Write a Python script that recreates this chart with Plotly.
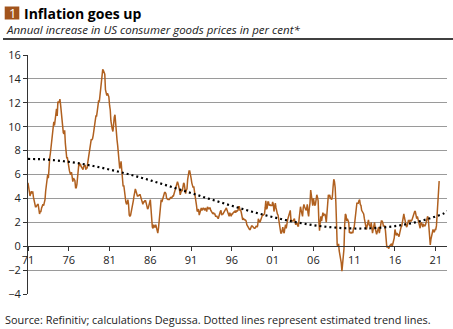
import pandas as pd
import plotly.graph_objects as go

# Monthly US CPI, year-on-year change in per cent, Jan 1971 .. Jul 2021
cpi_yoy = [
    # 1971
    5.3, 5.0, 4.7, 4.2, 4.4, 4.6, 4.4, 4.6, 4.1, 3.8, 3.3, 3.3,
    # 1972
    3.3, 3.5, 3.5, 3.5, 3.2, 2.7, 2.9, 2.9, 3.2, 3.4, 3.5, 3.4,
    # 1973
    3.6, 3.9, 4.6, 5.1, 5.5, 6.0, 5.7, 7.4, 7.4, 7.8, 8.3, 8.7,
    # 1974
    9.4, 10.0, 10.4, 10.1, 10.7, 10.9, 11.5, 10.9, 12.1, 12.0, 12.1, 12.3,
    # 1975
    11.8, 11.2, 10.3, 10.2, 9.5, 9.4, 9.7, 8.6, 7.9, 7.4, 7.4, 6.9,
    # 1976
    6.7, 6.3, 6.1, 6.0, 6.2, 5.9, 5.4, 5.7, 5.5, 5.5, 4.9, 4.9,
    # 1977
    5.2, 5.9, 6.4, 7.0, 6.7, 6.9, 6.7, 6.6, 6.6, 6.4, 6.7, 6.7,
    # 1978
    6.8, 6.4, 6.6, 6.5, 7.0, 7.4, 7.7, 7.9, 8.3, 8.9, 8.9, 9.0,
    # 1979
    9.3, 9.9, 10.1, 10.5, 10.9, 10.9, 11.3, 11.8, 12.2, 12.1, 12.6, 13.3,
    # 1980
    13.9, 14.2, 14.8, 14.7, 14.4, 14.4, 13.1, 12.9, 12.6, 12.8, 12.6, 12.5,
    # 1981
    11.8, 11.4, 10.5, 10.0, 9.8, 9.6, 10.8, 10.8, 11.0, 10.1, 9.6, 8.9,
    # 1982
    8.4, 7.6, 6.8, 6.5, 6.7, 7.1, 6.4, 5.9, 5.0, 5.1, 4.6, 3.8,
    # 1983
    3.7, 3.5, 3.6, 3.9, 3.5, 2.6, 2.5, 2.6, 2.9, 2.9, 3.3, 3.8,
    # 1984
    4.2, 4.6, 4.8, 4.6, 4.2, 4.2, 4.2, 4.3, 4.3, 4.3, 4.1, 3.9,
    # 1985
    3.5, 3.5, 3.7, 3.7, 3.8, 3.8, 3.6, 3.3, 3.1, 3.2, 3.5, 3.8,
    # 1986
    3.9, 3.1, 2.2, 1.6, 1.5, 1.8, 1.6, 1.6, 1.8, 1.5, 1.3, 1.1,
    # 1987
    1.5, 2.1, 3.0, 3.8, 3.9, 3.7, 3.9, 4.3, 4.4, 4.5, 4.5, 4.4,
    # 1988
    4.0, 3.9, 3.9, 3.9, 3.9, 4.0, 4.1, 4.0, 4.2, 4.2, 4.2, 4.4,
    # 1989
    4.7, 4.8, 5.0, 5.1, 5.4, 5.2, 5.0, 4.7, 4.3, 4.5, 4.7, 4.6,
    # 1990
    5.2, 5.3, 5.2, 4.7, 4.4, 4.7, 4.8, 5.6, 6.2, 6.3, 6.3, 6.1,
    # 1991
    5.7, 5.3, 4.9, 4.9, 5.0, 4.7, 4.4, 3.8, 3.4, 2.9, 3.0, 3.1,
    # 1992
    2.6, 2.8, 3.2, 3.2, 3.0, 3.1, 3.2, 3.1, 3.0, 3.2, 3.0, 2.9,
    # 1993
    3.3, 3.2, 3.1, 3.2, 3.2, 3.0, 2.8, 2.8, 2.7, 2.8, 2.7, 2.7,
    # 1994
    2.5, 2.5, 2.5, 2.4, 2.3, 2.5, 2.8, 2.9, 3.0, 2.6, 2.7, 2.7,
    # 1995
    2.8, 2.9, 2.9, 3.1, 3.2, 3.0, 2.8, 2.6, 2.5, 2.8, 2.6, 2.5,
    # 1996
    2.7, 2.7, 2.8, 2.9, 2.9, 2.8, 3.0, 2.9, 3.0, 3.0, 3.3, 3.3,
    # 1997
    3.0, 3.0, 2.8, 2.5, 2.2, 2.3, 2.2, 2.2, 2.2, 2.1, 1.8, 1.7,
    # 1998
    1.6, 1.4, 1.4, 1.4, 1.7, 1.7, 1.7, 1.6, 1.5, 1.5, 1.5, 1.6,
    # 1999
    1.7, 1.6, 1.7, 2.3, 2.1, 2.0, 2.1, 2.3, 2.6, 2.6, 2.6, 2.7,
    # 2000
    2.7, 3.2, 3.8, 3.1, 3.2, 3.7, 3.7, 3.4, 3.5, 3.4, 3.4, 3.4,
    # 2001
    3.7, 3.5, 2.9, 3.3, 3.6, 3.2, 2.7, 2.7, 2.6, 2.1, 1.9, 1.6,
    # 2002
    1.1, 1.1, 1.5, 1.6, 1.2, 1.1, 1.5, 1.8, 1.5, 2.0, 2.2, 2.4,
    # 2003
    2.6, 3.0, 3.0, 2.2, 2.1, 2.1, 2.1, 2.2, 2.3, 2.0, 1.8, 1.9,
    # 2004
    1.9, 1.7, 1.7, 2.3, 3.1, 3.3, 3.0, 2.7, 2.5, 3.2, 3.5, 3.3,
    # 2005
    3.0, 3.0, 3.1, 3.5, 2.8, 2.5, 3.2, 3.6, 4.7, 4.3, 3.5, 3.4,
    # 2006
    4.0, 3.6, 3.4, 3.5, 4.2, 4.3, 4.1, 3.8, 2.1, 1.3, 2.0, 2.5,
    # 2007
    2.1, 2.4, 2.8, 2.6, 2.7, 2.7, 2.4, 2.0, 2.8, 3.5, 4.3, 4.1,
    # 2008
    4.3, 4.0, 4.0, 3.9, 4.2, 5.0, 5.6, 5.4, 4.9, 3.7, 1.1, 0.1,
    # 2009
    0.0, 0.2, -0.4, -0.7, -1.3, -1.4, -2.1, -1.5, -1.3, -0.2, 1.8, 2.7,
    # 2010
    2.6, 2.1, 2.3, 2.2, 2.0, 1.1, 1.2, 1.1, 1.1, 1.2, 1.1, 1.5,
    # 2011
    1.6, 2.1, 2.7, 3.2, 3.6, 3.6, 3.6, 3.8, 3.9, 3.5, 3.4, 3.0,
    # 2012
    2.9, 2.9, 2.7, 2.3, 1.7, 1.7, 1.4, 1.7, 2.0, 2.2, 1.8, 1.7,
    # 2013
    1.6, 2.0, 1.5, 1.1, 1.4, 1.8, 2.0, 1.5, 1.2, 1.0, 1.2, 1.5,
    # 2014
    1.6, 1.1, 1.5, 2.0, 2.1, 2.1, 2.0, 1.7, 1.7, 1.7, 1.3, 0.8,
    # 2015
    -0.1, 0.0, -0.1, -0.2, 0.0, 0.1, 0.2, 0.2, 0.0, 0.2, 0.5, 0.7,
    # 2016
    1.4, 1.0, 0.9, 1.1, 1.0, 1.0, 0.8, 1.1, 1.5, 1.6, 1.7, 2.1,
    # 2017
    2.5, 2.7, 2.4, 2.2, 1.9, 1.6, 1.7, 1.9, 2.2, 2.0, 2.2, 2.1,
    # 2018
    2.1, 2.2, 2.4, 2.5, 2.8, 2.9, 2.9, 2.7, 2.3, 2.5, 2.2, 1.9,
    # 2019
    1.6, 1.5, 1.9, 2.0, 1.8, 1.6, 1.8, 1.7, 1.7, 1.8, 2.1, 2.3,
    # 2020
    2.5, 2.3, 1.5, 0.3, 0.1, 0.6, 1.0, 1.3, 1.4, 1.2, 1.2, 1.4,
    # 2021
    1.4, 1.7, 2.6, 4.2, 5.0, 5.4, 5.4,
]
cpi_start = "1971-01-01"

# Estimated trend (dotted)
trend_dates = [f"{y}-01-01" for y in range(1971, 2023)] + ["2022-05-20"]
trend_values = [
    7.30, 7.29, 7.26, 7.21, 7.14, 7.06, 6.96, 6.84, 6.71, 6.57,
    6.41, 6.25, 6.08, 5.90, 5.71, 5.51, 5.30, 5.09, 4.88, 4.66,
    4.45, 4.23, 4.01, 3.80, 3.59, 3.38, 3.18, 2.98, 2.79, 2.61,
    2.44, 2.28, 2.13, 1.99, 1.87, 1.76, 1.67, 1.60, 1.54, 1.50,
    1.48, 1.48, 1.50, 1.54, 1.60, 1.68, 1.79, 1.92, 2.08, 2.27,
    2.49, 2.75, 2.95,
]

tick_years = list(range(1971, 2022, 5))
tick_labels = ["71", "76", "81", "86", "91", "96", "01", "06", "11", "16", "21"]
y_ticks = list(range(-4, 17, 2))

title_num = "1"
title_text = "Inflation goes up"
subtitle_text = "Annual increase in US consumer goods prices in per cent*"
source_text = "Source: Refinitiv; calculations Degussa. Dotted lines represent estimated trend lines."

# ---- layout geometry (pixels) ----
W, H = 453, 329
L, R, T, B = 28, 6, 55, 35
PW, PH = W - L - R, H - T - B


def px(x):
    return (x - L) / PW


def py(y):
    return (H - B - y) / PH


FONT = "Open Sans"
TXT = "#222222"
BROWN = "#b0601f"

dates = pd.date_range(cpi_start, periods=len(cpi_yoy), freq="MS")

fig = go.Figure()
fig.add_trace(go.Scatter(
    x=dates, y=cpi_yoy, mode="lines",
    line=dict(color=BROWN, width=1.5), hoverinfo="skip",
))
fig.add_trace(go.Scatter(
    x=pd.to_datetime(trend_dates), y=trend_values, mode="lines",
    line=dict(color="black", width=2.2, dash="2px,3px", shape="spline"),
    hoverinfo="skip",
))

fig.update_layout(
    width=W, height=H,
    margin=dict(l=L, r=R, t=T, b=B, pad=0),
    paper_bgcolor="white", plot_bgcolor="white",
    showlegend=False,
    font=dict(family=FONT, size=11, color=TXT),
    xaxis=dict(
        type="date",
        range=["1971-01-01", "2022-05-20"],
        tickvals=[f"{y}-01-01" for y in tick_years],
        ticktext=tick_labels,
        showgrid=False, zeroline=False,
        showline=True, linecolor="#333333", linewidth=1,
        ticks="outside", ticklen=4, tickcolor="#333333",
        anchor="free", position=4 / 20,
        tickfont=dict(family=FONT, size=11, color=TXT),
    ),
    yaxis=dict(
        range=[-4, 16], tickvals=y_ticks,
        showgrid=True, gridcolor="#9a9a9a", gridwidth=1,
        zeroline=False,
        showline=True, linecolor="#333333", linewidth=1,
        ticks="outside", ticklen=4, tickcolor="#333333",
        tickfont=dict(family=FONT, size=11, color=TXT),
    ),
)

shapes = [
    dict(type="rect", xref="paper", yref="paper",
         x0=px(4.7), x1=px(19.3), y0=py(19.5), y1=py(6.5),
         fillcolor="#a2541c", line=dict(width=0)),
    dict(type="line", xref="paper", yref="paper",
         x0=px(3), x1=px(453), y0=py(39), y1=py(39),
         line=dict(color="black", width=1.3)),
]
fig.update_layout(shapes=shapes)

annotations = [
    dict(text=title_num, x=px(12), y=py(13), xanchor="center", yanchor="middle",
         font=dict(family=FONT, size=13, color="white")),
    dict(text=f"<b>{title_text}</b>", x=px(22), y=py(13), xanchor="left", yanchor="middle",
         font=dict(family=FONT, size=14, color="black")),
    dict(text=f"<i>{subtitle_text}</i>", x=px(4), y=py(29), xanchor="left", yanchor="middle",
         font=dict(family=FONT, size=11.5, color=TXT)),
    dict(text=source_text, x=px(3), y=py(319), xanchor="left", yanchor="middle",
         font=dict(family=FONT, size=10.9, color=TXT)),
]
for a in annotations:
    a.update(xref="paper", yref="paper", showarrow=False)
fig.update_layout(annotations=annotations)

fig.write_html("out.html")
